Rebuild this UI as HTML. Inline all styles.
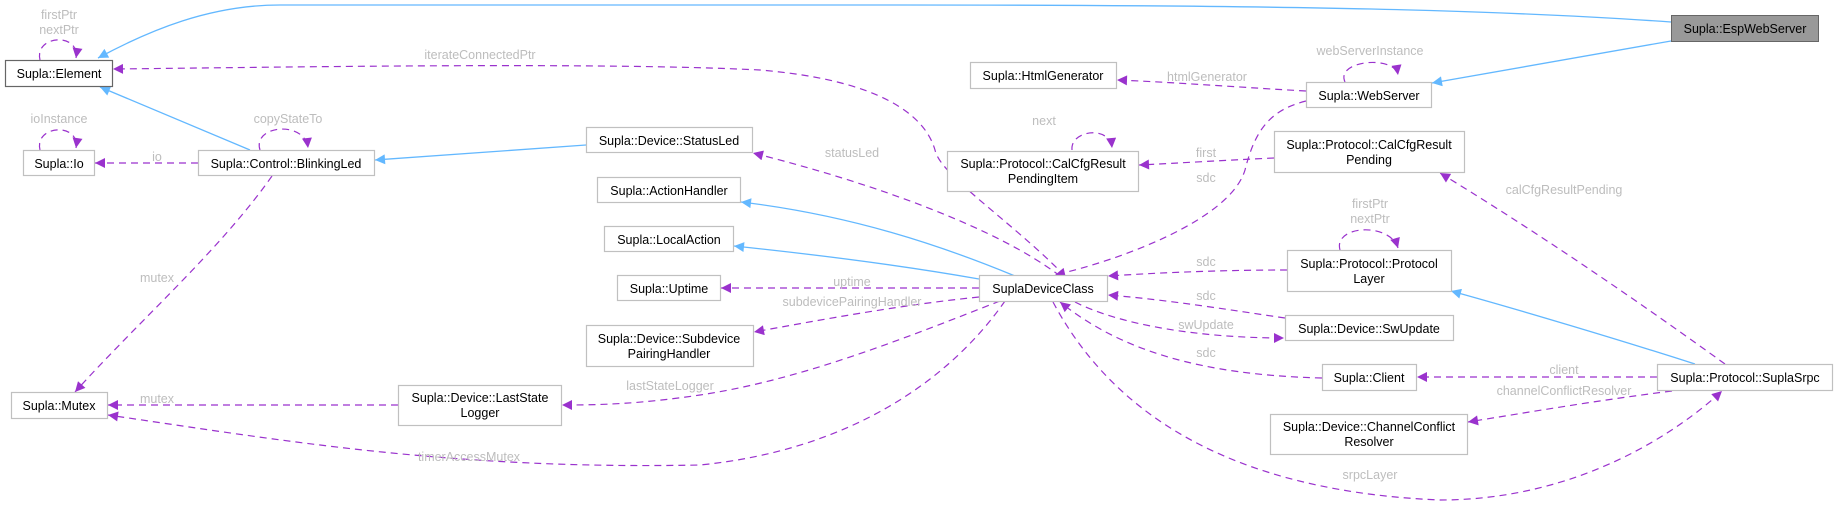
<!DOCTYPE html>
<html><head><meta charset="utf-8"><style>
html,body{margin:0;padding:0;background:#fff;}
svg{display:block;}
text{font-family:"Liberation Sans",Arial,sans-serif;font-size:12.5px;}
.n{fill:#000;text-anchor:middle;}
.l{fill:#bdbdbd;text-anchor:middle;}
.b{fill:#fff;stroke:#c0c0c0;stroke-width:1.2;}
.p{fill:none;stroke:#9a32cd;stroke-width:1.2;stroke-dasharray:7,5;marker-end:url(#ap);}
.i{fill:none;stroke:#63b8ff;stroke-width:1.3;marker-end:url(#ab);}
</style></head><body>
<svg width="1837" height="506" viewBox="0 0 1837 506" xmlns="http://www.w3.org/2000/svg">
<defs>
<marker id="ap" viewBox="0 0 10 10" refX="10" refY="5" markerWidth="12" markerHeight="10" markerUnits="userSpaceOnUse" orient="auto"><path d="M0,0 L10,5 L0,10 z" fill="#9a32cd"/></marker>
<marker id="ab" viewBox="0 0 10 10" refX="10" refY="5" markerWidth="12" markerHeight="10" markerUnits="userSpaceOnUse" orient="auto"><path d="M0,0 L10,5 L0,10 z" fill="#63b8ff"/></marker>
</defs>

<!-- edges -->
<path class="i" d="M1671,22 C1500,10 1300,5 900,5 L280,5 C210,5 150,30 98,58"/>
<path class="i" d="M1671,41 L1432,83"/>
<path class="p" d="M1306,91 C1250,88 1170,82 1117,80"/>
<path class="p" d="M1345,82 C1335,60 1395,55 1398,75" />
<path class="p" d="M1306,101 C1270,110 1255,130 1245,170 C1230,220 1120,260 1055,275"/>
<path class="p" d="M1274,158 C1230,160 1180,163 1139,165"/>
<path class="p" d="M1072,150 C1070,130 1110,125 1112,148"/>
<path class="p" d="M1065,276 C1010,220 940,175 935,150 C925,115 880,80 760,70 C600,62 300,67 113,69"/>
<path class="p" d="M1060,276 C1000,230 880,185 753,153"/>
<path class="i" d="M586,145 L375,160"/>
<path class="i" d="M250,150 L100,87"/>
<path class="p" d="M198,163 L95,163"/>
<path class="p" d="M260,150 C252,125 305,120 308,148"/>
<path class="p" d="M40,150 C34,125 80,122 76,148"/>
<path class="p" d="M40,60 C34,35 80,32 76,58"/>
<path class="p" d="M272,176 C220,250 140,320 75,392"/>
<path class="i" d="M1015,276 C940,245 850,215 741,202"/>
<path class="i" d="M979,279 C900,265 820,255 734,246"/>
<path class="p" d="M979,288 L721,288"/>
<path class="p" d="M979,297 C900,305 820,320 754,332"/>
<path class="p" d="M1000,301 C900,340 800,380 700,395 C640,404 600,405 562,405"/>
<path class="p" d="M1005,301 C950,380 850,450 700,465 C450,470 280,440 108,415"/>
<path class="p" d="M398,405 L108,405"/>
<path class="p" d="M1287,270 C1230,270 1170,272 1108,276"/>
<path class="p" d="M1285,318 C1230,310 1170,300 1108,295"/>
<path class="p" d="M1075,302 C1120,325 1200,338 1284,338"/>
<path class="p" d="M1322,378 C1200,375 1120,350 1060,302"/>
<path class="p" d="M1340,250 C1333,225 1390,222 1398,248"/>
<path class="i" d="M1695,364 C1620,340 1520,310 1451,291"/>
<path class="p" d="M1657,377 L1417,377"/>
<path class="p" d="M1672,391 C1600,400 1530,412 1468,422"/>
<path class="p" d="M1053,302 C1100,390 1200,490 1440,500 C1580,500 1680,430 1722,391"/>
<path class="p" d="M1725,364 C1650,310 1550,240 1440,173"/>

<!-- nodes -->
<rect x="1671.5" y="15.5" width="147" height="26" fill="#999" stroke="#666"/>
<text class="n" x="1745" y="33">Supla::EspWebServer</text>
<rect x="5.5" y="60.5" width="107" height="26" fill="#fff" stroke="#666" stroke-width="1.2"/>
<text class="n" x="59" y="78">Supla::Element</text>
<rect class="b" x="23.5" y="150.5" width="71" height="25"/><text class="n" x="59" y="168">Supla::Io</text>
<rect class="b" x="198.5" y="150.5" width="176" height="25"/><text class="n" x="286" y="168">Supla::Control::BlinkingLed</text>
<rect class="b" x="11.5" y="392.5" width="96" height="26"/><text class="n" x="59" y="410">Supla::Mutex</text>
<rect class="b" x="398.5" y="385.5" width="163" height="40"/><text class="n" x="480" y="402">Supla::Device::LastState</text><text class="n" x="480" y="417">Logger</text>
<rect class="b" x="970.5" y="62.5" width="146" height="26"/><text class="n" x="1043" y="80">Supla::HtmlGenerator</text>
<rect class="b" x="1306.5" y="82.5" width="125" height="25"/><text class="n" x="1369" y="100">Supla::WebServer</text>
<rect class="b" x="947.5" y="151.5" width="191" height="40"/><text class="n" x="1043" y="168">Supla::Protocol::CalCfgResult</text><text class="n" x="1043" y="183">PendingItem</text>
<rect class="b" x="1274.5" y="131.5" width="190" height="41"/><text class="n" x="1369" y="149">Supla::Protocol::CalCfgResult</text><text class="n" x="1369" y="164">Pending</text>
<rect class="b" x="586.5" y="127.5" width="166" height="25"/><text class="n" x="669" y="145">Supla::Device::StatusLed</text>
<rect class="b" x="597.5" y="177.5" width="143" height="25"/><text class="n" x="669" y="195">Supla::ActionHandler</text>
<rect class="b" x="604.5" y="226.5" width="129" height="25"/><text class="n" x="669" y="244">Supla::LocalAction</text>
<rect class="b" x="617.5" y="275.5" width="103" height="25"/><text class="n" x="669" y="293">Supla::Uptime</text>
<rect class="b" x="586.5" y="325.5" width="167" height="41"/><text class="n" x="669" y="343">Supla::Device::Subdevice</text><text class="n" x="669" y="358">PairingHandler</text>
<rect class="b" x="979.5" y="275.5" width="128" height="26"/><text class="n" x="1043" y="293">SuplaDeviceClass</text>
<rect class="b" x="1287.5" y="250.5" width="164" height="41"/><text class="n" x="1369" y="268">Supla::Protocol::Protocol</text><text class="n" x="1369" y="283">Layer</text>
<rect class="b" x="1285.5" y="315.5" width="168" height="25"/><text class="n" x="1369" y="333">Supla::Device::SwUpdate</text>
<rect class="b" x="1322.5" y="364.5" width="94" height="26"/><text class="n" x="1369" y="382">Supla::Client</text>
<rect class="b" x="1270.5" y="414.5" width="197" height="40"/><text class="n" x="1369" y="431">Supla::Device::ChannelConflict</text><text class="n" x="1369" y="446">Resolver</text>
<rect class="b" x="1657.5" y="364.5" width="175" height="26"/><text class="n" x="1745" y="382">Supla::Protocol::SuplaSrpc</text>

<!-- labels -->
<text class="l" x="59" y="19">firstPtr</text><text class="l" x="59" y="34">nextPtr</text>
<text class="l" x="59" y="123">ioInstance</text>
<text class="l" x="288" y="123">copyStateTo</text>
<text class="l" x="157" y="161">io</text>
<text class="l" x="480" y="59">iterateConnectedPtr</text>
<text class="l" x="157" y="282">mutex</text>
<text class="l" x="157" y="403">mutex</text>
<text class="l" x="469" y="461">timerAccessMutex</text>
<text class="l" x="670" y="390">lastStateLogger</text>
<text class="l" x="852" y="157">statusLed</text>
<text class="l" x="852" y="286">uptime</text>
<text class="l" x="852" y="306">subdevicePairingHandler</text>
<text class="l" x="1207" y="81">htmlGenerator</text>
<text class="l" x="1370" y="55">webServerInstance</text>
<text class="l" x="1044" y="125">next</text>
<text class="l" x="1206" y="157">first</text>
<text class="l" x="1206" y="182">sdc</text>
<text class="l" x="1564" y="194">calCfgResultPending</text>
<text class="l" x="1370" y="208">firstPtr</text><text class="l" x="1370" y="223">nextPtr</text>
<text class="l" x="1206" y="266">sdc</text>
<text class="l" x="1206" y="300">sdc</text>
<text class="l" x="1206" y="329">swUpdate</text>
<text class="l" x="1206" y="357">sdc</text>
<text class="l" x="1564" y="374">client</text>
<text class="l" x="1564" y="395">channelConflictResolver</text>
<text class="l" x="1370" y="479">srpcLayer</text>
</svg>
</body></html>
